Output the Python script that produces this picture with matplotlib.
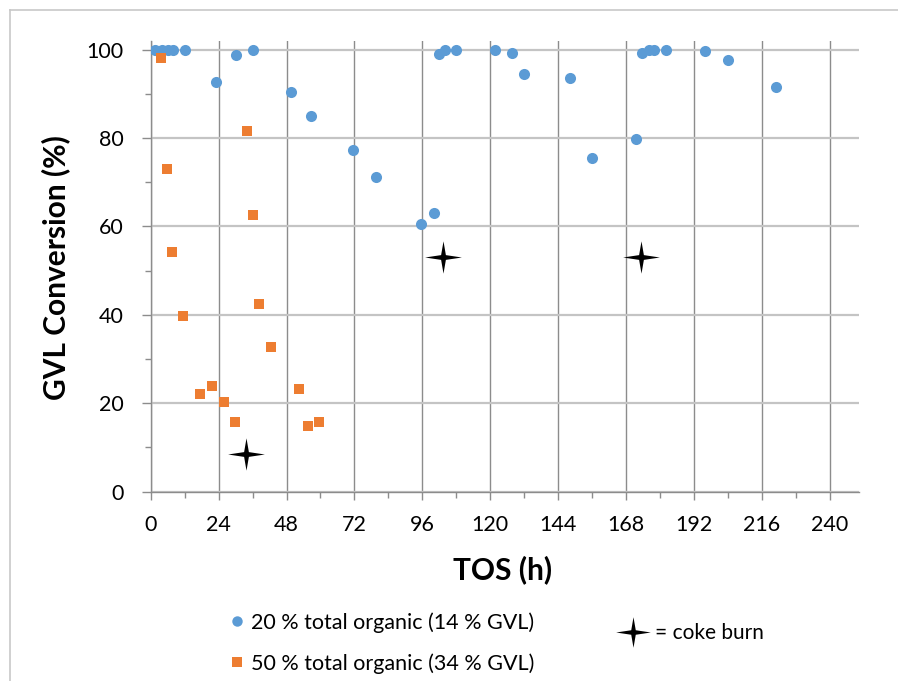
import matplotlib
matplotlib.use("Agg")
import matplotlib.pyplot as plt
from matplotlib.path import Path
from matplotlib.lines import Line2D
from matplotlib.ticker import MultipleLocator

plt.rcParams['font.family'] = ['Lato', 'DejaVu Sans']

# --- data -------------------------------------------------------------
tos_20 = [1.5, 4, 6, 8, 12, 23, 30, 36, 49.5, 56.5, 71.5, 79.5, 95.5, 100,
          102, 104, 108, 121.5, 127.5, 132, 148, 156, 171.5, 173.5, 176,
          178, 182, 196, 204, 221]
conv_20 = [100, 100, 100, 100, 100, 92.7, 98.9, 100, 90.4, 84.9, 77.2, 71.3,
           60.6, 63.1, 99.1, 99.9, 100, 100, 99.2, 94.4, 93.5, 75.4, 79.9,
           99.2, 99.9, 100, 100, 99.7, 97.6, 91.6]

tos_50 = [3.6, 5.6, 7.6, 11.5, 17.5, 21.8, 25.8, 29.7, 34.1, 36.3, 38.2,
          42.4, 52.3, 55.7, 59.6]
conv_50 = [98.2, 72.9, 54.2, 39.7, 22.1, 23.8, 20.2, 15.7, 81.5, 62.5, 42.5,
           32.8, 23.3, 14.9, 15.7]

coke_tos = [33.8, 103.4, 173.3]
coke_conv = [8.6, 53.1, 53.1]

label_20 = "20 % total organic (14 % GVL)"
label_50 = "50 % total organic (34 % GVL)"
label_coke = "= coke burn"
x_ticks = list(range(0, 241, 24))
y_ticks = list(range(0, 101, 20))

BLUE = "#5B9BD5"
ORANGE = "#ED7D31"

# thin four-pointed star used for the coke-burn marker
r_in = 0.13
star = Path([(1.0, 0), (r_in, r_in), (0, 0.88), (-r_in, r_in), (-1.0, 0),
             (-r_in, -r_in), (0, -0.88), (r_in, -r_in), (1.0, 0)],
            [Path.MOVETO] + [Path.LINETO] * 7 + [Path.CLOSEPOLY])

fig = plt.figure(figsize=(8.98, 6.81), dpi=100)
ax = fig.add_axes([0.1678, 0.278, 0.7888, 0.662])

ax.scatter(tos_20, conv_20, s=64, marker='o', color=BLUE, zorder=3,
           linewidths=0)
ax.scatter(tos_50, conv_50, s=62, marker='s', color=ORANGE, zorder=3,
           linewidths=0)
ax.scatter(coke_tos, coke_conv, s=700, marker=star, color='black', zorder=4,
           linewidths=0)

ax.set_xlim(0, 250.3)
ax.set_ylim(0, 102)
ax.set_xticks(x_ticks)
ax.set_yticks(y_ticks)
ax.xaxis.set_minor_locator(MultipleLocator(12))
ax.yaxis.set_minor_locator(MultipleLocator(10))

for s in ['top', 'right']:
    ax.spines[s].set_visible(False)
for s in ['left', 'bottom']:
    ax.spines[s].set_color('#8c8c8c')
    ax.spines[s].set_linewidth(1.0)

ax.grid(axis='y', which='major', color='#c4c4c4', linewidth=1.6, zorder=0)
ax.grid(axis='x', which='major', color='#8c8c8c', linewidth=1.0, zorder=0)
ax.set_axisbelow(True)

ax.tick_params(axis='both', which='major', direction='out', color='#8c8c8c',
               width=1.0, labelsize=15.5, labelcolor='black')
ax.tick_params(axis='y', which='major', length=6.5, pad=13)
ax.tick_params(axis='x', which='major', length=5.5, pad=11)
ax.tick_params(axis='y', which='minor', length=4.5, color='#8c8c8c', width=1.0)
ax.tick_params(axis='x', which='minor', length=4, color='#8c8c8c', width=1.0)

fig.text(56 / 898, 1 - 268 / 681, "GVL Conversion (%)", rotation=90,
         ha='center', va='center', fontsize=21.5, fontweight='bold')
fig.text(503 / 898, 1 - 570 / 681, "TOS (h)", ha='center', va='center',
         fontsize=21.5, fontweight='bold')

# legend
h20 = Line2D([], [], marker='o', linestyle='none', color=BLUE, markersize=7.5,
             markeredgewidth=0)
h50 = Line2D([], [], marker='s', linestyle='none', color=ORANGE, markersize=7.2,
             markeredgewidth=0)
fig.legend([h20, h50], [label_20, label_50], loc='upper left',
           bbox_to_anchor=(0.2567, 0.1013), bbox_transform=fig.transFigure,
           frameon=False, fontsize=15.5, handlelength=0.6,
           handletextpad=0.35, labelspacing=0.95, borderaxespad=0,
           borderpad=0)
hstar = Line2D([], [], marker=star, linestyle='none', color='black',
               markersize=25, markeredgewidth=0)
fig.legend([hstar], [label_coke], loc='center left',
           bbox_to_anchor=(0.686, 1 - 633 / 681), bbox_transform=fig.transFigure,
           frameon=False, fontsize=15, handlelength=1.6, handletextpad=0.29,
           borderaxespad=0, borderpad=0)

# chart frame edges
fig.add_artist(Line2D([10 / 898, 1], [1 - 9.5 / 681] * 2, color='#c8c8c8',
                      linewidth=1.2, transform=fig.transFigure))
fig.add_artist(Line2D([10 / 898] * 2, [0, 1 - 9.5 / 681], color='#c8c8c8',
                      linewidth=1.2, transform=fig.transFigure))

fig.savefig("out.png", dpi=100, facecolor='white')
